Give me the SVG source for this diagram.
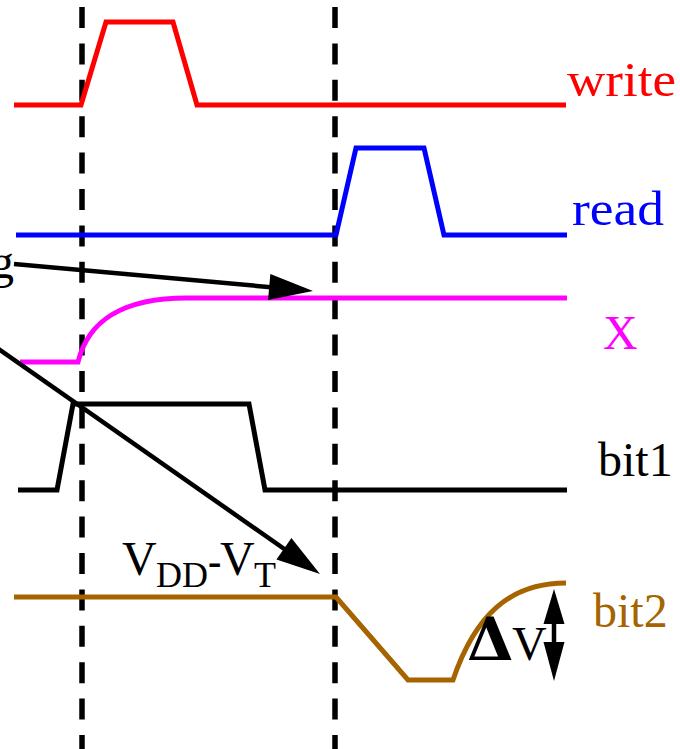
<svg xmlns="http://www.w3.org/2000/svg" width="680" height="749" viewBox="0 0 680 749">
<style>
text{font-family:"Liberation Serif","Times New Roman",serif;font-size:48px}
.sig{fill:none;stroke-width:5;stroke-linejoin:miter}
.dash{stroke:#000;stroke-width:5.5;stroke-dasharray:21 15.4;fill:none}
.arr{stroke:#000;stroke-width:4.5;fill:none}
</style>
<defs>
<marker id="ah" markerUnits="userSpaceOnUse" markerWidth="50" markerHeight="30" refX="24" refY="13" orient="auto" overflow="visible">
<path d="M0,0 L44,13 L0,26 z" fill="#000"/>
</marker>
</defs>
<g id="timelines">
<line class="dash" x1="82" y1="7" x2="82" y2="749"/>
<line class="dash" x1="335" y1="7" x2="335" y2="749"/>
</g>
<g id="write">
<path class="sig" stroke="#ff0000" d="M14,105 H81 L106,22 H173 L197,105 H566"/>
<text x="567" y="96" fill="#ff0000" textLength="109" lengthAdjust="spacingAndGlyphs">write</text>
</g>
<g id="read">
<path class="sig" stroke="#0000ff" d="M16,235 H336 L356,148 H424 L444,235 H567"/>
<text x="572" y="225" fill="#0000ff" textLength="92" lengthAdjust="spacingAndGlyphs">read</text>
</g>
<g id="X">
<path class="sig" stroke="#ff00ff" d="M20,362 H78 C88,322 120,298 187,298 H567"/>
<text x="603" y="349" fill="#ff00ff">X</text>
</g>
<g id="bit1">
<path class="sig" stroke="#000" d="M18,490 H57 L73,404 H249 L265,490 H567"/>
<text x="598" y="476" fill="#000">bit1</text>
</g>
<g id="bit2">
<path class="sig" stroke="#a66400" d="M14,597 H336 L408,680 H453 C475,615 510,583 566,583"/>
<text x="593" y="627" fill="#a66400">bit2</text>
<text x="122" y="575" fill="#000">V<tspan x="156" dy="12" font-size="36">DD</tspan><tspan x="208" dy="-12" font-size="40" font-weight="bold">-</tspan><tspan x="220">V</tspan><tspan x="254" dy="12" font-size="36">T</tspan></text>
<text x="467" y="660" fill="#000"><tspan font-family="'DejaVu Serif',serif" font-weight="bold" font-size="60">Δ</tspan><tspan x="512">V</tspan></text>
</g>
<g id="g-label">
<text x="14" y="278" text-anchor="end" fill="#000">g</text>
</g>
<g id="connectors">
<line class="arr" x1="14" y1="264" x2="293.1" y2="289.2" marker-end="url(#ah)"/>
<line class="arr" x1="-5" y1="346.5" x2="303.6" y2="562.5" marker-end="url(#ah)"/>
<line x1="554" y1="620" x2="554" y2="646" stroke="#000" stroke-width="4.5"/>
<polygon points="554,589 543.5,624 564.5,624" fill="#000"/>
<polygon points="554,681 543.5,642 564.5,642" fill="#000"/>
</g>
</svg>
